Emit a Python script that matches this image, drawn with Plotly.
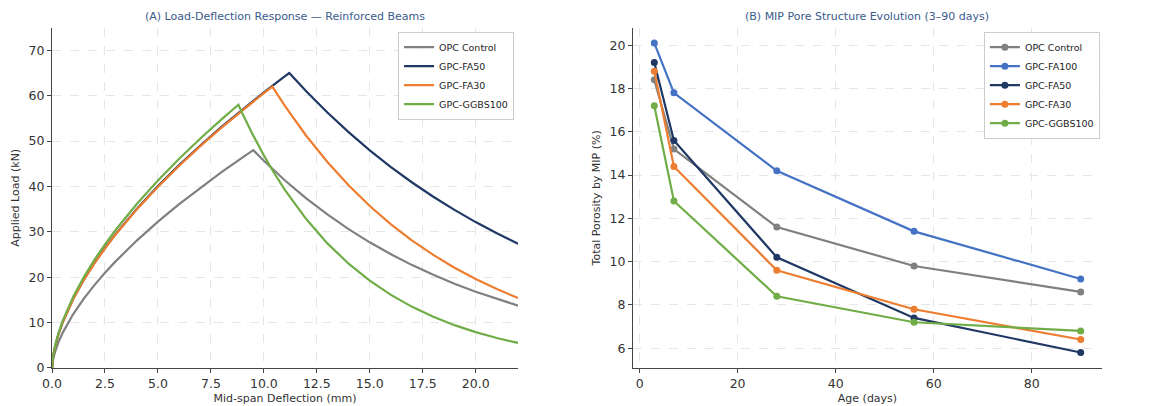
import plotly.graph_objects as go

# ---------------- Panel A data ----------------
opc_x = [0, 0.05, 0.15, 0.3, 0.5, 0.75, 1, 1.5, 2, 2.5, 3, 4, 5, 6, 7, 8, 9, 9.5,
         10, 11, 12, 13, 14, 15, 16, 17, 18, 19, 20, 21, 22]
opc_y = [0, 1.86, 3.67, 5.64, 7.74, 9.95, 11.88, 15.28, 18.27, 20.98, 23.49, 28.08, 32.24,
         36.1, 39.72, 43.15, 46.42, 48.0,
         45.66, 41.31, 37.38, 33.83, 30.61, 27.69, 25.06, 22.67, 20.52, 18.56, 16.8, 15.2, 13.75]

fa50_x = [0, 0.05, 0.15, 0.3, 0.5, 0.75, 1, 1.5, 2, 2.5, 3, 4, 5, 6, 7, 8, 9, 10, 11, 11.2,
          12, 13, 14, 15, 16, 17, 18, 19, 20, 21, 22]
fa50_y = [0, 2.53, 4.89, 7.41, 10.06, 12.84, 15.26, 19.46, 23.12, 26.44, 29.49, 35.04, 40.07,
          44.7, 49.03, 53.12, 57.0, 60.73, 64.3, 65.0,
          60.97, 56.28, 51.96, 47.96, 44.27, 40.87, 37.73, 34.83, 32.15, 29.68, 27.4]

fa30_x = [0, 0.05, 0.15, 0.3, 0.5, 0.75, 1, 1.5, 2, 2.5, 3, 4, 5, 6, 7, 8, 9, 10, 10.4,
          11, 12, 13, 14, 15, 16, 17, 18, 19, 20, 21, 22]
fa30_y = [0, 2.52, 4.87, 7.39, 10.04, 12.8, 15.21, 19.4, 23.06, 26.36, 29.41, 34.95, 39.95,
          44.57, 48.89, 52.97, 56.85, 60.56, 62.0,
          57.69, 51.17, 45.39, 40.25, 35.7, 31.66, 28.08, 24.91, 22.09, 19.59, 17.38, 15.41]

ggbs_x = [0, 0.05, 0.15, 0.3, 0.5, 0.75, 1, 1.5, 2, 2.5, 3, 4, 5, 6, 7, 8, 8.8,
          9, 9.5, 10, 10.5, 11, 11.5, 12, 13, 14, 15, 16, 17, 18, 19, 20, 21, 22]
ggbs_y = [0, 2.6, 5.04, 7.64, 10.38, 13.24, 15.73, 20.06, 23.84, 27.26, 30.41, 36.14, 41.31,
          46.09, 50.56, 54.78, 58.0,
          55.97, 51.2, 46.85, 42.86, 39.21, 35.87, 32.81, 27.46, 22.98, 19.24, 16.1, 13.47,
          11.28, 9.44, 7.9, 6.61, 5.53]

# ---------------- Panel B data ----------------
ages = [3, 7, 28, 56, 90]
mip_opc = [18.4, 15.2, 11.6, 9.8, 8.6]
mip_fa100 = [20.1, 17.8, 14.2, 11.4, 9.2]
mip_fa50 = [19.2, 15.6, 10.2, 7.4, 5.8]
mip_fa30 = [18.8, 14.4, 9.6, 7.8, 6.4]
mip_ggbs = [17.2, 12.8, 8.4, 7.2, 6.8]

C_GRAY = "#808080"
C_NAVY = "#1F3864"
C_ORANGE = "#ED7D31"
C_GREEN = "#70AD47"
C_BLUE = "#4472C4"

FONT = "DejaVu Sans"

fig = go.Figure()

for name, xs, ys, col in [("OPC Control", opc_x, opc_y, C_GRAY),
                          ("GPC-FA50", fa50_x, fa50_y, C_NAVY),
                          ("GPC-FA30", fa30_x, fa30_y, C_ORANGE),
                          ("GPC-GGBS100", ggbs_x, ggbs_y, C_GREEN)]:
    fig.add_trace(go.Scatter(x=xs, y=ys, mode="lines", name=name,
                             line=dict(color=col, width=2.2),
                             xaxis="x", yaxis="y", legend="legend"))

for name, ys, col in [("OPC Control", mip_opc, C_GRAY),
                      ("GPC-FA100", mip_fa100, C_BLUE),
                      ("GPC-FA50", mip_fa50, C_NAVY),
                      ("GPC-FA30", mip_fa30, C_ORANGE),
                      ("GPC-GGBS100", mip_ggbs, C_GREEN)]:
    fig.add_trace(go.Scatter(x=ages, y=ys, mode="lines+markers", name=name,
                             line=dict(color=col, width=2.2),
                             marker=dict(color=col, size=7),
                             xaxis="x2", yaxis="y2", legend="legend2"))

axis_common = dict(
    showline=True, linecolor="#444", linewidth=1.2,
    ticks="outside", ticklen=4, tickcolor="#444",
    tickfont=dict(family=FONT, size=12.5, color="#333"),
    showgrid=True, gridcolor="#e6e6e6", griddash="dash", gridwidth=1,
    zeroline=False, mirror=False, automargin=False,
)

ydom = [0.0936, 0.932]

fig.update_layout(
    width=1167, height=406,
    margin=dict(l=0, r=0, t=0, b=0),
    paper_bgcolor="white", plot_bgcolor="white",
    font=dict(family=FONT, color="#333"),
    xaxis=dict(domain=[0.0446, 0.4439], range=[0, 22], tickvals=[0, 2.5, 5, 7.5, 10, 12.5, 15, 17.5, 20],
               tickformat=".1f", anchor="y",
               title=dict(text="Mid-span Deflection (mm)", font=dict(family=FONT, size=11, color="#333"), standoff=4),
               **axis_common),
    yaxis=dict(domain=ydom, range=[0, 75], tickvals=[0, 10, 20, 30, 40, 50, 60, 70], anchor="x",
               title=dict(text="Applied Load (kN)", font=dict(family=FONT, size=11, color="#333"), standoff=6),
               **axis_common),
    xaxis2=dict(domain=[0.5424, 0.9443], range=[-1.35, 94.35], tickvals=[0, 20, 40, 60, 80], anchor="y2",
                title=dict(text="Age (days)", font=dict(family=FONT, size=11, color="#333"), standoff=4),
                **axis_common),
    yaxis2=dict(domain=ydom, range=[5.085, 20.815], tickvals=[6, 8, 10, 12, 14, 16, 18, 20], anchor="x2",
                title=dict(text="Total Porosity by MIP (%)", font=dict(family=FONT, size=11, color="#333"), standoff=6),
                **axis_common),
    legend=dict(x=0.4405, y=0.922, xanchor="right", yanchor="top",
                bgcolor="rgba(255,255,255,0.9)", bordercolor="#cccccc", borderwidth=1,
                font=dict(family=FONT, size=9.5, color="#222"), tracegroupgap=0, itemwidth=30),
    legend2=dict(x=0.9425, y=0.922, xanchor="right", yanchor="top",
                 bgcolor="rgba(255,255,255,0.9)", bordercolor="#cccccc", borderwidth=1,
                 font=dict(family=FONT, size=9.5, color="#222"), tracegroupgap=0, itemwidth=30),
    annotations=[
        dict(text="(A) Load-Deflection Response — Reinforced Beams", xref="paper", yref="paper",
             x=(0.0446 + 0.4439) / 2, y=0.96, xanchor="center", yanchor="middle", showarrow=False,
             font=dict(family=FONT, size=11, color="#3A5A8C")),
        dict(text="(B) MIP Pore Structure Evolution (3–90 days)", xref="paper", yref="paper",
             x=(0.5424 + 0.9443) / 2, y=0.96, xanchor="center", yanchor="middle", showarrow=False,
             font=dict(family=FONT, size=11, color="#3A5A8C")),
    ],
    showlegend=True,
)

fig.write_html("out.html",
               config={"displayModeBar": False},
               post_script="document.body.style.margin='0';document.body.style.padding='0';")
